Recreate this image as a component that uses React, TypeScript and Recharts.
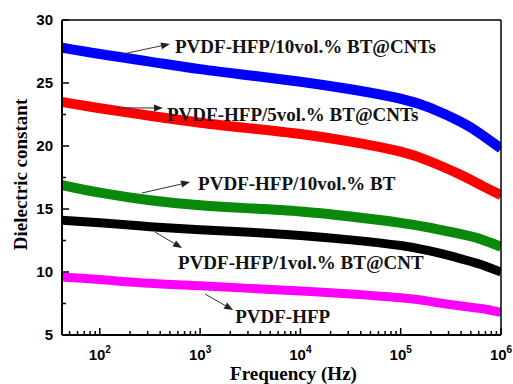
import { LineChart, Line, XAxis, YAxis, ReferenceLine, ReferenceDot, Label } from 'recharts'

// frequency (Hz) and dielectric constant
const freq = [42, 100, 316, 1000, 3162, 10000, 31623, 100000, 200000, 400000, 630000, 1000000]
const bt10Cnt = [27.8, 27.3, 26.7, 26.1, 25.6, 25.1, 24.5, 23.75, 23.0, 21.9, 20.95, 19.8]
const bt5Cnt = [23.5, 23.0, 22.4, 21.85, 21.4, 20.95, 20.35, 19.55, 18.75, 17.7, 16.9, 16.1]
const bt10 = [16.9, 16.3, 15.7, 15.3, 15.05, 14.8, 14.4, 13.9, 13.5, 13.0, 12.6, 12.0]
const bt1Cnt = [14.1, 13.9, 13.6, 13.35, 13.15, 12.9, 12.55, 12.1, 11.65, 11.05, 10.6, 10.0]
const pure = [9.6, 9.4, 9.1, 8.9, 8.7, 8.5, 8.25, 7.95, 7.65, 7.3, 7.1, 6.8]

const xMajor = [100, 1000, 10000, 100000, 1000000]
const xTicks = [50, 60, 70, 80, 90, 100, 200, 300, 400, 500, 600, 700, 800, 900,
  1000, 2000, 3000, 4000, 5000, 6000, 7000, 8000, 9000,
  10000, 20000, 30000, 40000, 50000, 60000, 70000, 80000, 90000,
  100000, 200000, 300000, 400000, 500000, 600000, 700000, 800000, 900000, 1000000]
const yTicks = [5, 7.5, 10, 12.5, 15, 17.5, 20, 22.5, 25, 27.5, 30]

// annotation: arrow from -> to, text starting at "at" (data coords)
const notes = [
  { text: 'PVDF-HFP/10vol.% BT@CNTs', from: [170, 27.3], to: [501, 28.1], at: [562, 27.38] },
  { text: 'PVDF-HFP/5vol.% BT@CNTs', from: [151, 23.02], to: [427, 23.02], at: [468, 21.98] },
  { text: 'PVDF-HFP/10vol.% BT', from: [263, 16.27], to: [794, 17.14], at: [955, 16.51] },
  { text: 'PVDF-HFP/1vol.% BT@CNT', from: [355, 13.17], to: [661, 11.9], at: [603, 10.24] },
  { text: 'PVDF-HFP', from: [1122, 8.25], to: [2138, 6.98], at: [2239, 5.95] },
]

const data = freq.map((f, i) => ({
  f,
  bt10Cnt: bt10Cnt[i],
  bt5Cnt: bt5Cnt[i],
  bt10: bt10[i],
  bt1Cnt: bt1Cnt[i],
  pure: pure[i],
}))

const serif = '"Liberation Serif", "Times New Roman", serif'
const sans = '"Liberation Sans", Arial, sans-serif'

function XTick(props: any) {
  const { x, y, payload } = props
  const major = xMajor.includes(payload.value)
  return (
    <g>
      <line x1={x} x2={x} y1={y} y2={y - (major ? 7 : 4)} stroke="#000" strokeWidth={1.5} />
      {major && (
        <text x={x} y={y + 25} textAnchor="middle" fontFamily={sans} fontWeight="bold" fontSize={15} fill="#000">
          <tspan>10</tspan>
          <tspan dy={-7} fontSize={10}>{Math.round(Math.log10(payload.value))}</tspan>
        </text>
      )}
    </g>
  )
}

function YTick(props: any) {
  const { x, y, payload } = props
  const major = payload.value % 5 === 0
  return (
    <g>
      <line x1={x} x2={x + (major ? 7 : 4)} y1={y} y2={y} stroke="#000" strokeWidth={1.5} />
      {major && (
        <text x={x - 9} y={y + 5} textAnchor="end" fontFamily={sans} fontWeight="bold" fontSize={15} fill="#000">
          {payload.value}
        </text>
      )}
    </g>
  )
}

function Arrow(props: any) {
  const { x1, y1, x2, y2 } = props
  const a = Math.atan2(y2 - y1, x2 - x1)
  const len = 9
  const w = 3.5
  const bx = x2 - len * Math.cos(a)
  const by = y2 - len * Math.sin(a)
  const px = -Math.sin(a) * w
  const py = Math.cos(a) * w
  return (
    <g>
      <line x1={x1} y1={y1} x2={bx} y2={by} stroke="#333" strokeWidth={1} />
      <polygon points={`${x2},${y2} ${bx + px},${by + py} ${bx - px},${by - py}`} fill="#222" />
    </g>
  )
}

const series = [
  { key: 'bt10Cnt', color: '#0000ff', width: 10 },
  { key: 'bt5Cnt', color: '#ff0000', width: 10 },
  { key: 'bt10', color: '#0a8a0a', width: 10 },
  { key: 'bt1Cnt', color: '#000000', width: 9 },
  { key: 'pure', color: '#ff00ff', width: 9 },
]

export default function App() {
  return (
    <div style={{ position: 'absolute', left: 0, top: 0, width: 513, height: 384, background: '#fff' }}>
      <LineChart width={513} height={384} data={data} margin={{ top: 20, right: 12, left: 0, bottom: 0 }}>
        <XAxis
          dataKey="f"
          type="number"
          scale="log"
          domain={[42, 1000000]}
          allowDataOverflow
          ticks={xTicks}
          interval={0}
          height={49}
          tickSize={0}
          tickMargin={0}
          tickLine={false}
          tick={<XTick />}
          axisLine={{ stroke: '#000', strokeWidth: 2 }}
        >
          <Label
            content={(p: any) => (
              <text
                x={p.viewBox.x + p.viewBox.width / 2 + 12}
                y={p.viewBox.y + 45}
                textAnchor="middle"
                fontFamily={serif}
                fontWeight="bold"
                fontSize={19}
                fill="#000"
              >
                Frequency (Hz)
              </text>
            )}
          />
        </XAxis>
        <YAxis
          type="number"
          domain={[5, 30]}
          ticks={yTicks}
          interval={0}
          width={62}
          tickSize={0}
          tickMargin={0}
          tickLine={false}
          tick={<YTick />}
          axisLine={{ stroke: '#000', strokeWidth: 2 }}
        >
          <Label
            content={(p: any) => {
              const cx = 27
              const cy = p.viewBox.y + p.viewBox.height / 2 - 3
              return (
                <text
                  x={cx}
                  y={cy}
                  transform={`rotate(-90 ${cx} ${cy})`}
                  textAnchor="middle"
                  fontFamily={serif}
                  fontWeight="bold"
                  fontSize={19}
                  fill="#000"
                >
                  Dielectric constant
                </text>
              )
            }}
          />
        </YAxis>
        {series.map((s) => (
          <Line
            key={s.key}
            dataKey={s.key}
            type="natural"
            stroke={s.color}
            strokeWidth={s.width}
            dot={false}
            activeDot={false}
            isAnimationActive={false}
          />
        ))}
        <ReferenceLine y={30} stroke="#000" strokeWidth={1.5} />
        <ReferenceLine x={1000000} stroke="#000" strokeWidth={1.5} />
        {notes.map((n) => (
          <ReferenceLine
            key={'a' + n.text}
            segment={[{ x: n.from[0], y: n.from[1] }, { x: n.to[0], y: n.to[1] }]}
            shape={<Arrow />}
          />
        ))}
        {notes.map((n) => (
          <ReferenceDot
            key={'t' + n.text}
            x={n.at[0]}
            y={n.at[1]}
            r={0}
            shape={(p: any) => (
              <text x={p.cx} y={p.cy} fontFamily={serif} fontWeight="bold" fontSize={19} fill="#111">
                {n.text}
              </text>
            )}
          />
        ))}
      </LineChart>
    </div>
  )
}
